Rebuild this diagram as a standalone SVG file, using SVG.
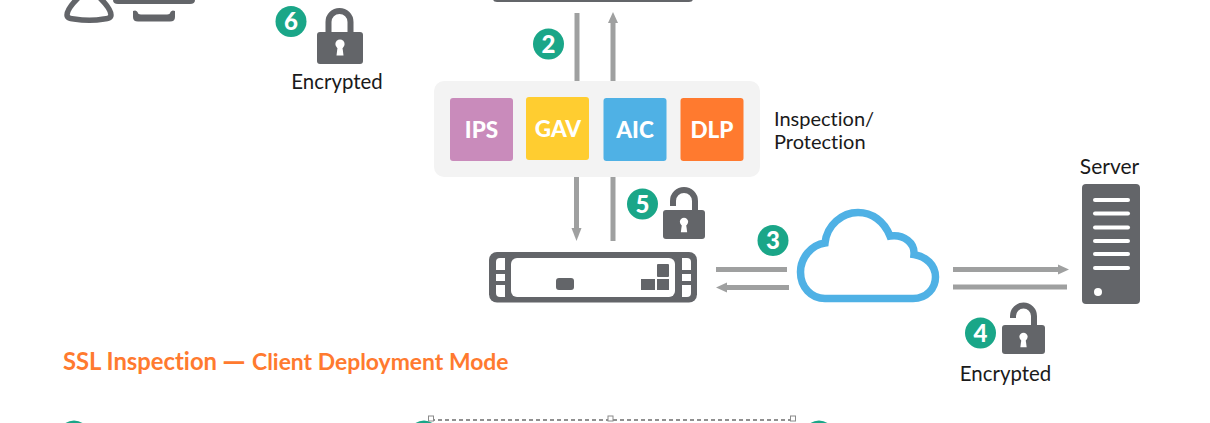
<svg xmlns="http://www.w3.org/2000/svg" width="1210" height="423" viewBox="0 0 1210 423">
<style>
text{font-family:"Lato","Open Sans",sans-serif;font-variant-ligatures:none}
.dark{fill:#636569}
.lbl{font-size:20px;fill:#1a1a1a}
.enc{font-size:20.400px}
.badge circle{fill:#1aa688}
.badge text{font-size:24px;font-weight:900;fill:#fff;text-anchor:middle}
.box text{font-size:22.500px;font-weight:900;fill:#fff;text-anchor:middle}
.line{stroke:#9fa0a0;stroke-width:5;fill:none}
.head{fill:#9fa0a0}
.shackle{fill:none;stroke:#636569;stroke-width:6}
.keyhole{fill:#fff}
.bar{fill:#fff}
.handle{fill:#fff;stroke:#8a8a8a;stroke-width:1}
</style>
<defs>
<g id="keyh"><circle cx="0" cy="-3.500" r="4.600" class="keyhole"/><path d="M-2.200 -2 L-3.500 8 H3.500 L2.200 -2Z" class="keyhole"/></g>
</defs>
<rect width="1210" height="423" fill="#fff"/>
<g id="client">
<path d="M78 -2 C73 3 67 10 67 15 C67 18 70 18.500 74 19 C83 20.500 96 20.500 104 19 C108 18.500 111 18 111 15 C111 10 105 3 100 -2" fill="none" stroke="#636569" stroke-width="5.500"/>
<path d="M113 -5 H195 V0 Q195 4 190 4 H118 Q113 4 113 0Z" class="dark"/>
<path d="M133 11 Q136 9.500 137.500 12 Q138 14.500 141 14.500 H167 Q170 14.500 170.500 12 Q172 9.500 175 11 V17 Q175 21.500 170 21.500 H138 Q133 21.500 133 17Z" class="dark"/>
</g>
<g id="top-device"><path d="M493 -4 H693 V-1 Q693 2 689 2 H497 Q493 2 493 -1Z" class="dark"/></g>
<g id="connectors">
<path class="line" d="M577 13 V82"/>
<path class="line" d="M613 20 V82"/><path class="head" d="M613 12 L618 23 H608Z"/>
<path class="line" d="M576.500 176 V230"/><path class="head" d="M576.500 241 L571.500 228 H581.500Z"/>
<path class="line" d="M613 176 V241"/>
<path class="line" d="M716 269.500 H787"/>
<path class="line" d="M725 287.500 H789"/><path class="head" d="M716 287.500 L727 282.500 V292.500Z"/>
<path class="line" d="M953 269.500 H1060"/><path class="head" d="M1069 269.500 L1058 264.500 V274.500Z"/>
<path class="line" d="M953 287 H1067"/>
</g>
<g id="inspection">
<rect x="434" y="81" width="326" height="96" rx="10" fill="#f3f3f3"/>
<g class="box" id="ips"><rect x="450" y="98" width="63" height="63" rx="3" fill="#c98bbb"/><text x="481.500" y="137.500">IPS</text></g>
<g class="box" id="gav"><rect x="526" y="97" width="63" height="63" rx="3" fill="#ffcd30"/><text x="558" y="136.500">GAV</text></g>
<g class="box" id="aic"><rect x="603.500" y="98" width="63" height="63" rx="3" fill="#4fb1e5"/><text x="635" y="137.500">AIC</text></g>
<g class="box" id="dlp"><rect x="680.500" y="98" width="63" height="63" rx="3" fill="#ff7a2f"/><text x="712" y="137.500">DLP</text></g>
<text class="lbl" x="774" y="126">Inspection/</text>
<text class="lbl" x="774" y="148.500">Protection</text>
</g>
<g id="firewall">
<rect x="489" y="252" width="208" height="50.500" rx="8" class="dark"/>
<rect x="511" y="258" width="164" height="39" rx="6" class="bar"/>
<path d="M496 270 V262 Q496 258 500 258 H505 V270Z" class="bar"/><rect x="496" y="274" width="9" height="7" class="bar"/><path d="M496 285 H505 V297 H500 Q496 297 496 293Z" class="bar"/>
<path d="M691 270 V262 Q691 258 687 258 H682 V270Z" class="bar"/><rect x="682" y="274" width="9" height="7" class="bar"/><path d="M691 285 H682 V297 H687 Q691 297 691 293Z" class="bar"/>
<rect x="556" y="278" width="18" height="12" rx="3" class="dark"/>
<rect x="641" y="279" width="14" height="11" class="dark"/><rect x="657" y="279" width="12" height="11" class="dark"/><rect x="657" y="264" width="12" height="13" rx="1" class="dark"/>
</g>
<g id="cloud"><path d="M825 298.500 H913 C927 298.500 935.500 288 935.500 277 C935.500 265 926 256.500 914 254.500 C915 243 904 234 890 236 C884 221 872 212.500 858 212.500 C842 212.500 827 225 825 243 C811 245 800.500 258 800.500 272 C800.500 287 811 298.500 825 298.500Z" fill="#fff" stroke="#4fb1e5" stroke-width="7.500"/></g>
<g id="server">
<rect x="1082" y="184" width="58" height="120" rx="4" class="dark"/>
<g class="bar"><rect x="1093" y="198" width="37" height="4" rx="2"/><rect x="1093" y="211.500" width="37" height="4" rx="2"/><rect x="1093" y="225.500" width="37" height="4" rx="2"/><rect x="1093" y="239" width="37" height="4" rx="2"/><rect x="1093" y="252" width="37" height="4" rx="2"/><rect x="1093" y="266" width="37" height="4" rx="2"/></g>
<circle cx="1098" cy="292" r="4" class="bar"/>
<text class="lbl" x="1109.500" y="174" text-anchor="middle" style="font-size:21px">Server</text>
</g>
<g id="lock6">
<path class="shackle" d="M328.500 34 V22 A11 11 0 0 1 350.500 22 V34"/>
<rect x="317" y="32" width="46" height="32" rx="3" class="dark"/>
<use href="#keyh" x="340" y="47.500"/>
<text class="lbl enc" x="337" y="89" text-anchor="middle">Encrypted</text>
</g>
<g id="lock5">
<path class="shackle" d="M673 206 V201 A11 11 0 0 1 695 201 V212"/>
<rect x="663" y="210" width="42" height="29" rx="3" class="dark"/>
<use href="#keyh" transform="translate(684 225) scale(.9)"/>
</g>
<g id="lock4">
<path class="shackle" d="M1013 318 V316 A10.500 10.500 0 0 1 1034 316 V327"/>
<rect x="1002" y="325" width="43" height="29" rx="3" class="dark"/>
<use href="#keyh" transform="translate(1023.500 340) scale(.9)"/>
<text class="lbl enc" x="1005.500" y="380.500" text-anchor="middle">Encrypted</text>
</g>
<g id="badge6" class="badge"><circle cx="291" cy="21.500" r="15.500"/><text x="291" y="30">6</text></g>
<g id="badge2" class="badge"><circle cx="548.500" cy="44" r="15.500"/><text x="548.500" y="52.500">2</text></g>
<g id="badge5" class="badge"><circle cx="642.500" cy="204" r="15.500"/><text x="642.500" y="212.500">5</text></g>
<g id="badge3" class="badge"><circle cx="773" cy="240.500" r="15.500"/><text x="773" y="249">3</text></g>
<g id="badge4" class="badge"><circle cx="980.500" cy="333" r="15.500"/><text x="980.500" y="341.500">4</text></g>
<text y="370" font-size="23.800" font-weight="700" fill="#ff7a2f"><tspan x="63">SSL Inspection </tspan><tspan x="222" dy="1.800" font-size="30">— </tspan><tspan x="252" dy="-1.800" font-size="22.900">Client Deployment Mode</tspan></text>
<g id="bottom-badges" class="badge"><circle cx="74" cy="436" r="15.500"/><circle cx="424" cy="436" r="15.500"/><circle cx="819" cy="436" r="15.500"/></g>
<g id="selection">
<path d="M431 420 H793" stroke="#222" stroke-width="1.200" stroke-dasharray="4 3" fill="none"/>
<rect x="428.500" y="416" width="5" height="5" class="handle"/><rect x="608" y="416" width="5" height="5" class="handle"/><rect x="790.500" y="416" width="5" height="5" class="handle"/>
</g>
</svg>
